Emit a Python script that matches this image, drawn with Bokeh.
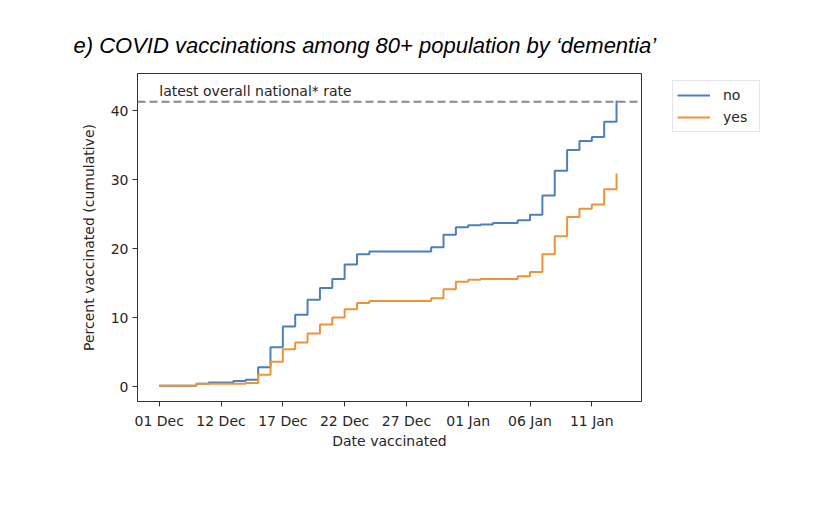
from bokeh.plotting import figure
from bokeh.layouts import row
from bokeh.models import Span, Label, Legend, LegendItem, Range1d, FixedTicker
from bokeh.embed import file_html
from bokeh.resources import INLINE

# ---- data ----
days = list(range(38))
no_pct = [0.1, 0.1, 0.1, 0.4, 0.6, 0.6, 0.8, 1.0, 2.8, 5.7,
          8.7, 10.4, 12.6, 14.3, 15.6, 17.7, 19.2, 19.6, 19.6, 19.6,
          19.6, 19.6, 20.2, 22.0, 23.1, 23.4, 23.5, 23.7, 23.7, 24.1,
          24.9, 27.7, 31.3, 34.3, 35.6, 36.2, 38.4, 41.5]
yes_pct = [0.1, 0.1, 0.1, 0.4, 0.4, 0.4, 0.4, 0.5, 1.7, 3.6,
           5.4, 6.4, 7.7, 9.0, 10.0, 11.2, 12.1, 12.4, 12.4, 12.4,
           12.4, 12.4, 12.8, 14.1, 15.2, 15.5, 15.6, 15.6, 15.6, 16.0,
           16.6, 19.2, 21.8, 24.6, 25.8, 26.4, 28.6, 30.9]
series_names = ["no", "yes"]
series_colors = ["#4c7fbf", "#eb9438"]
tick_days = [0, 5, 10, 15, 20, 25, 30, 35]
tick_labels = ["01 Dec", "12 Dec", "17 Dec", "22 Dec", "27 Dec", "01 Jan", "06 Jan", "11 Jan"]
y_ticks = [0, 10, 20, 30, 40]
national_rate = 41.3
rate_label = "latest overall national* rate"
title_text = "e) COVID vaccinations among 80+ population by \u2018dementia\u2019"

p = figure(frame_width=504, frame_height=328, output_backend="svg", toolbar_location=None,
           x_range=Range1d(-1.76, 39.02), y_range=Range1d(-2.17, 45.4),
           min_border_left=137, min_border_right=22, min_border_top=73,
           min_border_bottom=99)

p.title.text = title_text
p.title.text_font = "Liberation Sans"
p.title.text_font_style = "italic"
p.title.text_font_size = "22px"
p.title.text_color = "black"
p.title.align = "left"
p.title.offset = -64
p.title.standoff = 32

p.xgrid.visible = False
p.ygrid.visible = False
p.outline_line_color = "#333333"
p.outline_line_width = 1
p.background_fill_color = "white"
p.border_fill_color = "white"

for ax in (p.xaxis[0], p.yaxis[0]):
    ax.axis_line_color = "#333333"
    ax.major_tick_line_color = "#333333"
    ax.major_tick_in = 0
    ax.major_tick_out = 5
    ax.minor_tick_line_color = None
    ax.major_label_text_font = "DejaVu Sans"
    ax.major_label_text_font_size = "14px"
    ax.major_label_text_color = "#262626"
    ax.axis_label_text_font = "DejaVu Sans"
    ax.axis_label_text_font_size = "14px"
    ax.axis_label_text_font_style = "normal"
    ax.axis_label_text_color = "#262626"

p.xaxis.ticker = FixedTicker(ticks=tick_days)
p.xaxis.major_label_overrides = {d: l for d, l in zip(tick_days, tick_labels)}
p.xaxis.axis_label = "Date vaccinated"
p.xaxis.major_label_standoff = 6
p.xaxis.axis_label_standoff = 1

p.yaxis.ticker = FixedTicker(ticks=y_ticks)
p.yaxis.axis_label = "Percent vaccinated (cumulative)"
p.yaxis.major_label_standoff = 4
p.yaxis.axis_label_standoff = 11

p.add_layout(Span(location=national_rate, dimension="width", line_color="#888888",
                  line_width=2, line_dash="8 4"))
p.add_layout(Label(x=0, y=41.65, text=rate_label, text_font="DejaVu Sans",
                   text_font_size="14px", text_color="#262626",
                   text_baseline="bottom"))

series = [no_pct, yes_pct]
for vals, col in zip(series, series_colors):
    p.step(days, vals, mode="after", line_color=col, line_width=2)

# legend panel to the right of the axes: a companion figure of the same height,
# whose key lines carry the same series but lie outside its visible range
q = figure(frame_width=100, frame_height=328, output_backend="svg", toolbar_location=None,
           min_border_left=2, min_border_right=0, min_border_top=73, min_border_bottom=99,
           x_range=Range1d(100, 101), y_range=Range1d(100, 101))
q.axis.visible = False
q.xgrid.visible = False
q.ygrid.visible = False
q.outline_line_color = None
q.border_fill_color = "white"
q.background_fill_color = "white"
key_renderers = [q.step(days, vals, mode="after", line_color=col, line_width=2)
                 for vals, col in zip(series, series_colors)]
legend = Legend(items=[LegendItem(label=n, renderers=[r]) for n, r in zip(series_names, key_renderers)],
                location="top_left", margin=7, padding=4, spacing=2,
                glyph_width=33, glyph_height=20, label_height=20, label_width=32,
                label_standoff=13, label_text_font="DejaVu Sans",
                label_text_font_size="14px", label_text_color="#262626",
                border_line_color="#cccccc", border_line_width=1,
                background_fill_color="white", background_fill_alpha=1)
q.add_layout(legend)

layout = row(p, q)
open("out.html", "w").write(file_html(layout, INLINE))
